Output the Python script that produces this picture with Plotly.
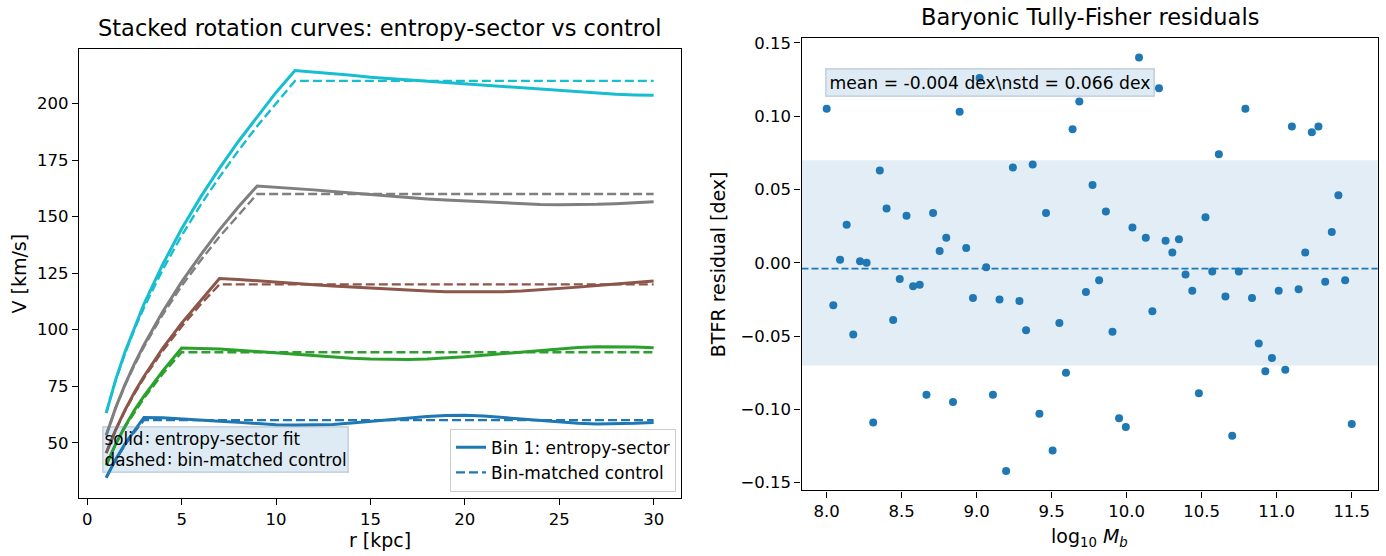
import plotly.graph_objects as go

# ---------------- data: left panel (rotation curves) ----------------
R_KPC = [1, 1.5, 2, 2.5, 3, 4, 5, 6, 7, 8, 9, 10, 11, 12, 13, 14, 15, 16, 17, 18,
         19, 20, 21, 22, 23, 24, 25, 26, 27, 28, 29, 30]

BIN_COLORS = ["#1f77b4", "#2ca02c", "#8c564b", "#7f7f7f", "#17becf"]

# entropy-sector fits (solid)
V_FIT = [
    [34.5, 42.6, 49.5, 55.6, 61.2, 61.0, 60.6, 60.1, 59.5, 59.0, 58.4, 58.0, 57.8, 57.8, 58.1, 58.7,
     59.4, 60.2, 61.0, 61.6, 62.0, 62.1, 61.8, 61.2, 60.5, 59.8, 59.1, 58.6, 58.3, 58.3, 58.6, 59.0],
    [40.0, 49.4, 57.3, 64.4, 70.6, 81.8, 91.9, 91.7, 91.4, 90.9, 90.3, 89.6, 89.0, 88.4, 87.8, 87.3,
     87.0, 86.8, 86.8, 87.0, 87.4, 88.0, 88.7, 89.4, 90.2, 90.9, 91.6, 92.1, 92.4, 92.5, 92.3, 92.0],
    [45.4, 55.7, 64.5, 72.3, 79.3, 91.8, 102.9, 113.0, 122.6, 122.2, 121.7, 121.1, 120.5, 119.9, 119.3, 118.8,
     118.4, 117.9, 117.5, 117.1, 116.8, 116.7, 116.6, 116.8, 117.1, 117.6, 118.2, 118.8, 119.5, 120.2, 120.9, 121.5],
    [53.2, 65.4, 75.8, 85.0, 93.2, 108.0, 121.1, 133.0, 144.1, 154.2, 163.5, 163.0, 162.4, 161.8, 161.1, 160.4,
     159.7, 159.0, 158.3, 157.8, 157.3, 156.9, 156.4, 155.9, 155.6, 155.3, 155.2, 155.2, 155.4, 155.7, 156.1, 156.5],
    [63.1, 77.8, 90.2, 101.2, 111.3, 129.0, 144.6, 158.6, 171.3, 183.2, 194.3, 204.9, 214.6, 214.0, 213.3, 212.5,
     211.6, 211.0, 210.5, 210.0, 209.4, 208.8, 208.2, 207.6, 206.9, 206.2, 205.6, 205.0, 204.5, 204.1, 203.8, 203.6],
]

# bin-matched controls (dashed)
V_CTRL = [
    [34.6, 42.4, 49.0, 54.8, 60.0, 60.0, 60.0, 60.0, 60.0, 60.0, 60.0, 60.0, 60.0, 60.0, 60.0, 60.0,
     60.0, 60.0, 60.0, 60.0, 60.0, 60.0, 60.0, 60.0, 60.0, 60.0, 60.0, 60.0, 60.0, 60.0, 60.0, 60.0],
    [40.2, 49.3, 56.9, 63.6, 69.7, 80.5, 90.0, 90.0, 90.0, 90.0, 90.0, 90.0, 90.0, 90.0, 90.0, 90.0,
     90.0, 90.0, 90.0, 90.0, 90.0, 90.0, 90.0, 90.0, 90.0, 90.0, 90.0, 90.0, 90.0, 90.0, 90.0, 90.0],
    [45.4, 55.5, 64.1, 71.7, 78.6, 90.7, 101.4, 111.1, 120.0, 120.0, 120.0, 120.0, 120.0, 120.0, 120.0, 120.0,
     120.0, 120.0, 120.0, 120.0, 120.0, 120.0, 120.0, 120.0, 120.0, 120.0, 120.0, 120.0, 120.0, 120.0, 120.0, 120.0],
    [53.3, 65.3, 75.4, 84.3, 92.4, 106.7, 119.3, 130.6, 141.1, 150.8, 160.0, 160.0, 160.0, 160.0, 160.0, 160.0,
     160.0, 160.0, 160.0, 160.0, 160.0, 160.0, 160.0, 160.0, 160.0, 160.0, 160.0, 160.0, 160.0, 160.0, 160.0, 160.0],
    [63.3, 77.5, 89.5, 100.1, 109.7, 126.6, 141.6, 155.1, 167.5, 179.1, 190.0, 200.2, 210.0, 210.0, 210.0, 210.0,
     210.0, 210.0, 210.0, 210.0, 210.0, 210.0, 210.0, 210.0, 210.0, 210.0, 210.0, 210.0, 210.0, 210.0, 210.0, 210.0],
]

# ---------------- data: right panel (BTFR residuals) ----------------
LOG_MB = [8.000, 8.044, 8.089, 8.133, 8.177, 8.222, 8.266, 8.310, 8.354, 8.399,
          8.443, 8.487, 8.532, 8.576, 8.620, 8.665, 8.709, 8.753, 8.797, 8.842,
          8.886, 8.930, 8.975, 9.019, 9.063, 9.108, 9.152, 9.196, 9.241, 9.285,
          9.329, 9.373, 9.418, 9.462, 9.506, 9.551, 9.595, 9.639, 9.684, 9.728,
          9.772, 9.816, 9.861, 9.905, 9.949, 9.994, 10.038, 10.082, 10.127, 10.171,
          10.215, 10.259, 10.304, 10.348, 10.392, 10.437, 10.481, 10.525, 10.570, 10.614,
          10.658, 10.703, 10.747, 10.791, 10.835, 10.880, 10.924, 10.968, 11.013, 11.057,
          11.101, 11.146, 11.190, 11.234, 11.278, 11.323, 11.367, 11.411, 11.456, 11.500]

RESID = [0.105, -0.029, 0.002, 0.026, -0.049, 0.001, 0.000, -0.109, 0.063, 0.037,
         -0.039, -0.011, 0.032, -0.016, -0.015, -0.090, 0.034, 0.008, 0.017, -0.095,
         0.103, 0.010, -0.024, 0.126, -0.003, -0.090, -0.025, -0.142, 0.065, -0.026,
         -0.046, 0.067, -0.103, 0.034, -0.128, -0.041, -0.075, 0.091, 0.110, -0.020,
         0.053, -0.012, 0.035, -0.047, -0.106, -0.112, 0.024, 0.140, 0.017, -0.033,
         0.119, 0.015, 0.007, 0.016, -0.008, -0.019, -0.089, 0.031, -0.006, 0.074,
         -0.023, -0.118, -0.006, 0.105, -0.024, -0.055, -0.074, -0.065, -0.019, -0.073,
         0.093, -0.018, 0.007, 0.089, 0.093, -0.013, 0.021, 0.046, -0.012, -0.110]

RESID_MEAN = -0.004
RESID_BAND = 0.07

LEFT_XTICKS = [0, 5, 10, 15, 20, 25, 30]
LEFT_YTICKS = [50, 75, 100, 125, 150, 175, 200]
RIGHT_XTICKS = [8.0, 8.5, 9.0, 9.5, 10.0, 10.5, 11.0, 11.5]
RIGHT_YTICKS = [-0.15, -0.10, -0.05, 0.00, 0.05, 0.10, 0.15]

# ---------------- figure ----------------
FONT = "DejaVu Sans"
W, H = 1386, 556

fig = go.Figure()

for i, col in enumerate(BIN_COLORS):
    fig.add_trace(go.Scatter(
        x=R_KPC, y=V_FIT[i], mode="lines",
        line=dict(color=col, width=3),
        name="Bin 1: entropy-sector" if i == 0 else f"Bin {i+1}",
        showlegend=(i == 0), xaxis="x", yaxis="y", hoverinfo="skip"))
    fig.add_trace(go.Scatter(
        x=R_KPC, y=V_CTRL[i], mode="lines",
        line=dict(color=col, width=2.4, dash="9px,4px"),
        name="Bin-matched control",
        showlegend=(i == 0), xaxis="x", yaxis="y", hoverinfo="skip"))

fig.add_trace(go.Scatter(
    x=LOG_MB, y=RESID, mode="markers",
    marker=dict(color="#1f77b4", size=8, line=dict(width=0)),
    showlegend=False, xaxis="x2", yaxis="y2", hoverinfo="skip"))

# band and mean line
fig.add_shape(type="rect", xref="x2 domain", yref="y2", x0=0, x1=1,
              y0=-RESID_BAND, y1=RESID_BAND, fillcolor="rgba(31,119,180,0.13)",
              line=dict(width=0), layer="below")
fig.add_shape(type="line", xref="x2 domain", yref="y2", x0=0, x1=1,
              y0=RESID_MEAN, y1=RESID_MEAN,
              line=dict(color="#1f77b4", width=1.6, dash="7px,3px"), layer="below")

axis_common = dict(showgrid=False, zeroline=False, showline=True, mirror=True,
                   linecolor="black", linewidth=1.2, ticks="outside", ticklen=6,
                   tickwidth=1.2, tickcolor="black",
                   tickfont=dict(family=FONT, size=16.5, color="black"))

def px(x):
    return x / W

def py(y):
    return 1 - y / H

fig.update_layout(
    width=W, height=H, autosize=False,
    margin=dict(l=0, r=0, t=0, b=0),
    paper_bgcolor="white", plot_bgcolor="white",
    font=dict(family=FONT, size=16, color="black"),
    xaxis=dict(domain=[px(78.8), px(681)], range=[-0.45, 31.45],
               tickvals=LEFT_XTICKS, anchor="y", **axis_common),
    yaxis=dict(domain=[py(499.3), py(45.7)], range=[25.6, 224.0],
               tickvals=LEFT_YTICKS, anchor="x", **axis_common),
    xaxis2=dict(domain=[px(801.5), px(1377.7)], range=[7.832, 11.673],
                tickvals=RIGHT_XTICKS, tickformat=".1f", anchor="y2", **axis_common),
    yaxis2=dict(domain=[py(491.8), py(34.5)], range=[-0.1553, 0.1532],
                tickvals=RIGHT_YTICKS, tickformat=".2f", anchor="x2", **axis_common),
    legend=dict(x=px(676), y=py(493), xanchor="right", yanchor="bottom",
                bgcolor="rgba(255,255,255,0.9)", bordercolor="#cccccc", borderwidth=1,
                font=dict(family=FONT, size=17, color="black"),
                tracegroupgap=0, itemwidth=30),
)

ann = []
# titles
ann.append(dict(text="Stacked rotation curves: entropy-sector vs control",
                x=px(380), y=py(24), xref="paper", yref="paper", showarrow=False,
                xanchor="center", yanchor="middle", font=dict(family=FONT, size=22.5)))
ann.append(dict(text="Baryonic Tully-Fisher residuals",
                x=px(1089.6), y=py(13), xref="paper", yref="paper", showarrow=False,
                xanchor="center", yanchor="middle", font=dict(family=FONT, size=22.5)))
# axis titles
ann.append(dict(text="r [kpc]", x=px(380), y=py(542), xref="paper", yref="paper",
                showarrow=False, xanchor="center", yanchor="middle",
                font=dict(family=FONT, size=19)))
ann.append(dict(text="V [km/s]", x=px(19), y=py(272.5), xref="paper", yref="paper",
                showarrow=False, xanchor="center", yanchor="middle", textangle=-90,
                font=dict(family=FONT, size=19)))
ann.append(dict(text="log<sub>10</sub> <i>M</i><sub><i>b</i></sub>", x=px(1089.6), y=py(539),
                xref="paper", yref="paper", showarrow=False, xanchor="center",
                yanchor="middle", font=dict(family=FONT, size=19)))
ann.append(dict(text="BTFR residual [dex]", x=px(718), y=py(263), xref="paper", yref="paper",
                showarrow=False, xanchor="center", yanchor="middle", textangle=-90,
                font=dict(family=FONT, size=19)))
# text boxes
ann.append(dict(text="solid\u200a\u2236 entropy-sector fit<br>dashed\u200a\u2236 bin-matched control",
                x=px(102), y=py(450), xref="paper", yref="paper", showarrow=False,
                xanchor="left", yanchor="middle", align="left",
                bgcolor="rgba(31,119,180,0.15)", bordercolor="rgba(120,140,160,0.35)",
                borderwidth=1.5, borderpad=1, font=dict(family=FONT, size=16.8)))
ann.append(dict(text="mean = -0.004 dex\\nstd = 0.066 dex",
                x=px(825), y=py(79.5), xref="paper", yref="paper", showarrow=False,
                xanchor="left", yanchor="middle", align="left",
                bgcolor="rgba(31,119,180,0.15)", bordercolor="rgba(120,140,160,0.35)",
                borderwidth=1.5, borderpad=3, font=dict(family=FONT, size=17.2)))

fig.update_layout(annotations=ann)

fig.write_html("out.html")
